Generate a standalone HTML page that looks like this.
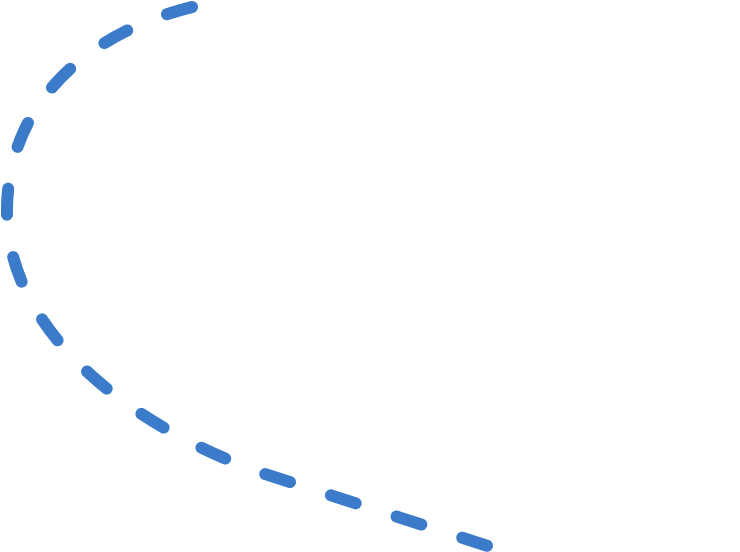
<!DOCTYPE html>
<html><head><style>
html,body{margin:0;padding:0;background:#fff;width:740px;height:552px;overflow:hidden}
</style></head><body>
<svg width="740" height="552" viewBox="0 0 740 552" xmlns="http://www.w3.org/2000/svg">
<path d="M192,7 C80,35 5,110 7,215 C10,330 125,425 265,474 L494,548" fill="none" stroke="#3b7bc9" stroke-width="12" stroke-linecap="round" stroke-dasharray="26 43"/>
</svg>
</body></html>
